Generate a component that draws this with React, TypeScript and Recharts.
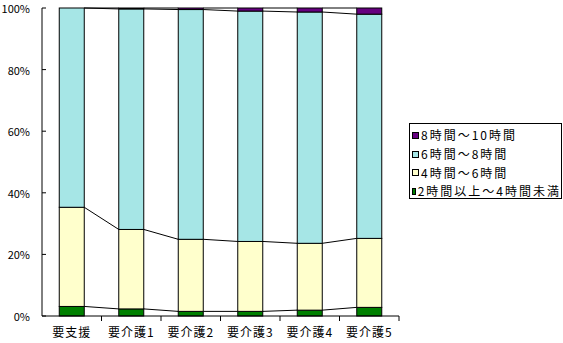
import React from "react";
import { ComposedChart, Bar, XAxis, YAxis } from "recharts";

const categories = ["要支援", "要介護1", "要介護2", "要介護3", "要介護4", "要介護5"];
const hours2to4 = [3.1, 2.3, 1.5, 1.5, 1.9, 2.8];
const hours4to6 = [32.2, 25.8, 23.4, 22.7, 21.7, 22.4];
const hours6to8 = [64.7, 71.6, 74.6, 74.8, 75.1, 72.8];
const hours8to10 = [0, 0.3, 0.5, 1.0, 1.3, 2.0];
const yTicks = [0, 20, 40, 60, 80, 100];

const seriesKeys = ["h2to4", "h4to6", "h6to8", "h8to10"];
const seriesNames = ["2時間以上～4時間未満", "4時間～6時間", "6時間～8時間", "8時間～10時間"];
const seriesColors = ["#008000", "#FFFFCC", "#A6E6E6", "#660080"];
const seriesValues = [hours2to4, hours4to6, hours6to8, hours8to10];

const data = categories.map((name, i) => ({
  name,
  h2to4: hours2to4[i],
  h4to6: hours4to6[i],
  h6to8: hours6to8[i],
  h8to10: hours8to10[i],
}));

// running totals, used for the Excel-style series lines between bars
const cumulative = seriesValues.map((_, s) =>
  categories.map((_, i) => seriesValues.slice(0, s + 1).reduce((sum, arr) => sum + arr[i], 0))
);

const WIDTH = 563;
const HEIGHT = 343;
const MARGIN_TOP = 8;
const X_AXIS_H = 27;
const Y_AXIS_W = 42;
const GAP = 0.29;
const PX_PER_UNIT = (HEIGHT - MARGIN_TOP - X_AXIS_H) / 100;
const font = '"Noto Sans CJK JP", sans-serif';

function makeShape(cum: number[]) {
  return (props: any) => {
    const { x, y, width, height, index, fill } = props;
    const step = width / (1 - 2 * GAP);
    const hasNext = index + 1 < cum.length;
    const nextY = hasNext ? y + (cum[index] - cum[index + 1]) * PX_PER_UNIT : 0;
    return (
      <g>
        {height > 0 && (
          <rect x={x} y={y} width={width} height={height} fill={fill} stroke="#000" strokeWidth={1} />
        )}
        {hasNext && (
          <line x1={x + width} y1={y} x2={x + step} y2={nextY} stroke="#000" strokeWidth={1} />
        )}
      </g>
    );
  };
}

function XTick(props: any) {
  const { x, y, payload } = props;
  const half = payload.offset ?? 0;
  return (
    <g>
      <line x1={x + half} y1={y} x2={x + half} y2={y + 5} stroke="#000" />
      <text x={x} y={y + 21} textAnchor="middle" fontSize={12} fontFamily={font} letterSpacing={1} fill="#000">
        {payload.value}
      </text>
    </g>
  );
}

function YTick(props: any) {
  const { x, y, payload } = props;
  return (
    <g>
      <line x1={x} y1={y} x2={x + 4} y2={y} stroke="#000" />
      <text x={x - 12} y={y + 5} textAnchor="end" fontSize={11} fontFamily={font} fill="#000">
        {payload.value + "%"}
      </text>
    </g>
  );
}

export default function App() {
  const legendOrder = [3, 2, 1, 0];
  return (
    <div style={{ position: "absolute", left: 0, top: 0, width: WIDTH, height: HEIGHT, background: "#fff" }}>
      <ComposedChart
        width={WIDTH}
        height={HEIGHT}
        data={data}
        margin={{ top: MARGIN_TOP, right: 164, bottom: 0, left: 0 }}
        barCategoryGap={`${GAP * 100}%`}
      >
        <XAxis
          dataKey="name"
          height={X_AXIS_H}
          axisLine={{ stroke: "#000" }}
          tickLine={false}
          tickSize={0}
          tickMargin={0}
          tick={<XTick />}
          interval={0}
        />
        <YAxis
          width={Y_AXIS_W}
          domain={[0, 100]}
          ticks={yTicks}
          axisLine={{ stroke: "#000" }}
          tickLine={false}
          tickSize={0}
          tickMargin={0}
          tick={<YTick />}
          interval={0}
        />
        {seriesKeys.map((key, s) => (
          <Bar
            key={key}
            dataKey={key}
            stackId="a"
            fill={seriesColors[s]}
            isAnimationActive={false}
            shape={makeShape(cumulative[s])}
          />
        ))}
      </ComposedChart>
      <div
        style={{
          position: "absolute",
          left: 409,
          top: 123,
          width: 151,
          height: 72,
          border: "1px solid #000",
          background: "#fff",
          fontFamily: font,
          fontSize: 12,
          letterSpacing: 2,
          paddingTop: 2,
          boxSizing: "content-box",
        }}
      >
        {legendOrder.map((s) => (
          <div key={s} style={{ display: "flex", alignItems: "center", height: 18.7, paddingLeft: 2 }}>
            <span
              style={{
                display: "inline-block",
                width: 5,
                height: 5,
                border: "1px solid #000",
                background: seriesColors[s],
                marginRight: 2,
              }}
            />
            <span style={{ whiteSpace: "nowrap", lineHeight: "14px" }}>{seriesNames[s]}</span>
          </div>
        ))}
      </div>
    </div>
  );
}
